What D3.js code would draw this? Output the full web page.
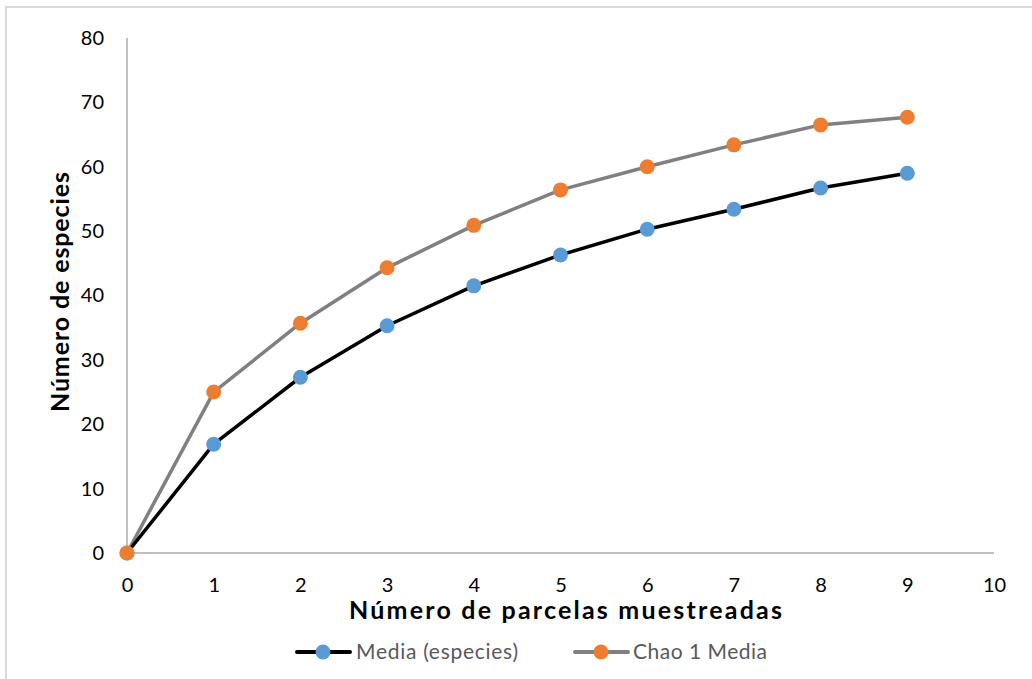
<!DOCTYPE html>
<html><head><meta charset="utf-8">
<script src="https://cdn.jsdelivr.net/npm/d3@7"></script>
<style>body{margin:0;background:#fff}svg{display:block}</style>
</head><body>
<svg id="c" width="1032" height="679"></svg>
<script>
const xValues = [0,1,2,3,4,5,6,7,8,9];
const mediaEspecies = [0,16.9,27.3,35.3,41.5,46.3,50.3,53.4,56.7,59.0];
const chao1Media = [0,25.0,35.7,44.3,50.9,56.4,60.0,63.4,66.5,67.7];
const xTicks = [0,1,2,3,4,5,6,7,8,9,10];
const yTicks = [0,10,20,30,40,50,60,70,80];
const seriesNames = ["Media (especies)","Chao 1 Media"];

const svg = d3.select("#c");
const font = "Lato, 'Open Sans', 'Liberation Sans', sans-serif";
svg.append("rect").attr("x",6).attr("y",7).attr("width",1040).attr("height",690)
  .attr("fill","#fff").attr("stroke","#d9d9d9").attr("stroke-width",2);

const x = d3.scaleLinear().domain([0,10]).range([127,994]);
const y = d3.scaleLinear().domain([0,80]).range([553,38]);

svg.append("line").attr("x1",x(0)).attr("x2",x(0)).attr("y1",y(80)).attr("y2",y(0))
  .attr("stroke","#bfbfbf").attr("stroke-width",2);
svg.append("line").attr("x1",x(0)).attr("x2",x(10)).attr("y1",y(0)).attr("y2",y(0))
  .attr("stroke","#bfbfbf").attr("stroke-width",2);

const yAxis = svg.append("g").attr("transform",`translate(${x(0)},0)`)
  .call(d3.axisLeft(y).tickValues(yTicks).tickSize(0).tickPadding(23));
yAxis.select(".domain").remove();
yAxis.selectAll("text").attr("font-family",font).attr("font-size",20).attr("fill","#000");

const xAxis = svg.append("g").attr("transform",`translate(0,${y(0)})`)
  .call(d3.axisBottom(x).tickValues(xTicks).tickSize(0).tickPadding(25));
xAxis.select(".domain").remove();
xAxis.selectAll("text").attr("font-family",font).attr("font-size",20).attr("fill","#000");

svg.append("text").attr("x",349).attr("y",619)
  .attr("font-family",font).attr("font-weight","bold").attr("font-size",25).attr("fill","#000")
  .attr("textLength",433).attr("lengthAdjust","spacing")
  .text("Número de parcelas muestreadas");
svg.append("text").attr("transform","translate(69,412) rotate(-90)")
  .attr("font-family",font).attr("font-weight","bold").attr("font-size",25).attr("fill","#000")
  .attr("textLength",240).attr("lengthAdjust","spacing")
  .text("Número de especies");

const line = d3.line().x((d,i)=>x(xValues[i])).y(d=>y(d)).curve(d3.curveLinear);
const series = [
  {name:seriesNames[0], values:mediaEspecies, line:"#000000", marker:"#5b9bd5"},
  {name:seriesNames[1], values:chao1Media, line:"#808080", marker:"#ed7d31"}
];
series.slice().reverse().forEach(s=>{
  svg.append("path").datum(s.values).attr("d",line).attr("fill","none")
    .attr("stroke",s.line).attr("stroke-width",3.5).attr("stroke-linejoin","round").attr("stroke-linecap","round");
});
series.forEach(s=>{
  svg.append("g").selectAll("circle").data(s.values).join("circle")
    .attr("cx",(d,i)=>x(xValues[i])).attr("cy",d=>y(d)).attr("r",7.5).attr("fill",s.marker);
});

// legend
const leg = [{x0:297,tx:356,w:162},{x0:575,tx:633,w:134}];
series.forEach((s,i)=>{
  const g = svg.append("g");
  g.append("line").attr("x1",leg[i].x0).attr("x2",leg[i].x0+53).attr("y1",652).attr("y2",652)
    .attr("stroke",s.line).attr("stroke-width",4).attr("stroke-linecap","round");
  g.append("circle").attr("cx",leg[i].x0+26).attr("cy",652).attr("r",7.5).attr("fill",s.marker);
  g.append("text").attr("x",leg[i].tx).attr("y",659).attr("font-family",font).attr("font-size",21)
    .attr("textLength",leg[i].w).attr("lengthAdjust","spacing")
    .attr("fill","#595959").text(s.name);
});
</script>
</body></html>
